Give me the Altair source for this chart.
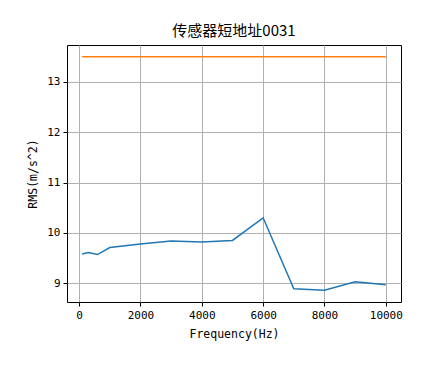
import altair as alt
import pandas as pd

freq = [100, 300, 600, 1000, 2000, 3000, 4000, 5000, 6000, 7000, 8000, 9000, 10000]
rms = [9.58, 9.61, 9.57, 9.71, 9.78, 9.84, 9.82, 9.85, 10.30, 8.89, 8.86, 9.03, 8.97]
limit = [13.5] * len(freq)

df = pd.DataFrame({
    "freq": freq * 2,
    "value": rms + limit,
    "series": ["RMS"] * len(freq) + ["Limit"] * len(freq),
})

mono = "DejaVu Sans Mono"
x = alt.X("freq:Q", scale=alt.Scale(domain=[-395, 10495], nice=False, zero=False),
          axis=alt.Axis(title="Frequency(Hz)", values=[0, 2000, 4000, 6000, 8000, 10000],
                        format="d", labelFlush=False))
y = alt.Y("value:Q", scale=alt.Scale(domain=[8.628, 13.732], nice=False, zero=False),
          axis=alt.Axis(title="RMS(m/s^2)", values=[9, 10, 11, 12, 13], format="d"))

chart = alt.Chart(df).mark_line(strokeWidth=1.5).encode(
    x=x, y=y,
    color=alt.Color("series:N", scale=alt.Scale(domain=["RMS", "Limit"], range=["#1f77b4", "#ff7f0e"]), legend=None),
).properties(
    width=334, height=257,
    title=alt.TitleParams("传感器短地址0031", font="Noto Sans CJK SC", fontSize=15, fontWeight="normal", color="black", offset=6),
    autosize=alt.AutoSizeParams(type="none"),
    padding={"left": 59, "top": 37, "right": 35, "bottom": 60},
).configure_view(stroke="black", strokeWidth=1).configure_axis(
    domain=False, grid=True, gridColor="#b0b0b0", gridWidth=1,
    tickColor="black", tickSize=4, tickWidth=1,
    labelFont=mono, labelFontSize=11, labelColor="black", labelPadding=3,
    titleFont=mono, titleFontSize=11.5, titleFontWeight="normal", titleColor="black",
).configure_axisX(titlePadding=8).configure_axisY(titlePadding=8)

chart.save("out.html", embed_options={"renderer": "svg", "actions": False})
